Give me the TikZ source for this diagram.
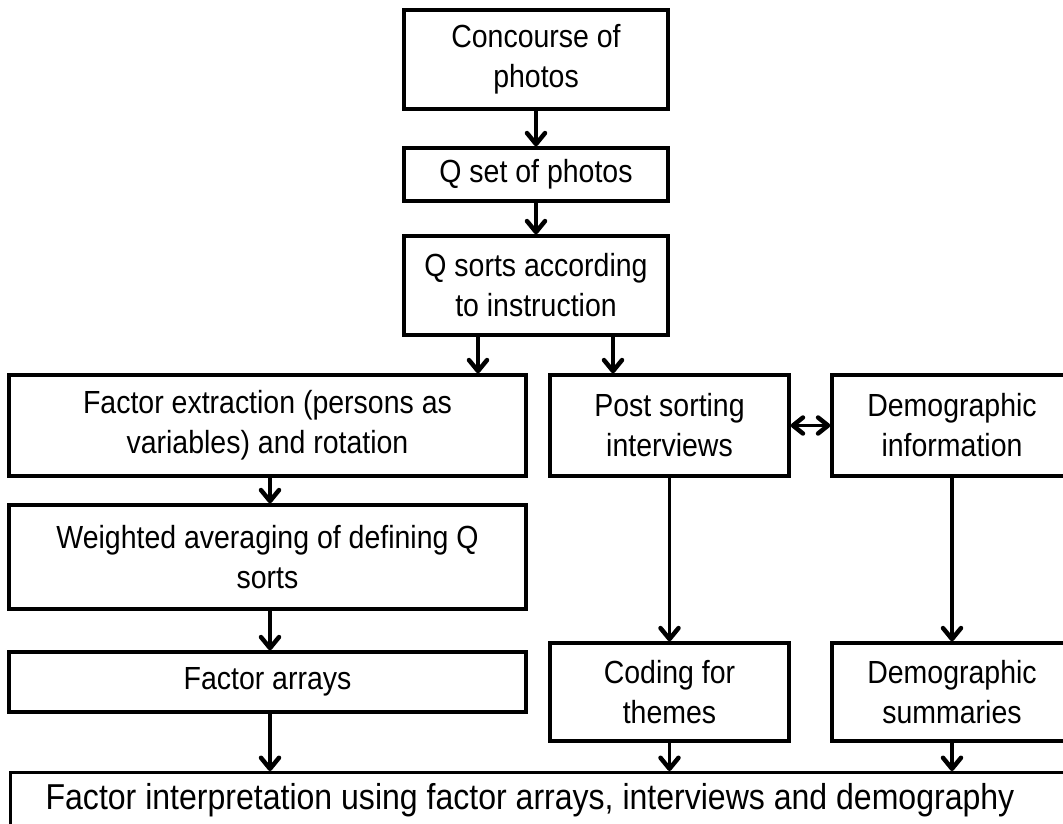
\documentclass[tikz,border=0pt]{standalone}
\usepackage{fontspec}
\setmainfont{Liberation Sans}[FakeStretch=0.89]
\usetikzlibrary{arrows.meta}
\begin{document}
\begin{tikzpicture}[x=1pt,y=-1pt,
  stepbox/.style={draw, line width=3.4pt, rectangle, inner sep=0pt, align=center,
    font=\fontsize{32}{40}\selectfont},
  barb/.tip={Straight Barb[length=11pt,width=18pt,line width=0pt 1.4,round]},
  sbarb/.tip={Straight Barb[length=10pt,width=16pt,line width=0pt 1.4,round]},
  flow/.style={line width=3.2pt, -barb},
  flow2/.style={line width=3.2pt, sbarb-sbarb}
]
\useasboundingbox (0,0) rectangle (1063,823);
\clip (0,0) rectangle (1063,823);
\fill[white] (0,0) rectangle (1063,823);

% top column
\node[stepbox, minimum width=264pt, minimum height=99pt]  (b1) at (536,59.5)  {Concourse of\\photos};
\node[stepbox, minimum width=264pt, minimum height=53pt]  (b2) at (536,174.5) {Q set of photos};
\node[stepbox, minimum width=264pt, minimum height=99pt]  (b3) at (536,285.5) {Q sorts according\\to instruction};

% second row
\node[stepbox, minimum width=517pt, minimum height=101pt] (b4) at (267.5,425.5) {Factor extraction (persons as\\variables) and rotation};
\node[stepbox, minimum width=239pt, minimum height=101pt] (b5) at (669.5,425.5) {Post sorting\\interviews};
\node[stepbox, minimum width=240pt, minimum height=101pt] (b6) at (952,425.5) {Demographic\\information};

% left column
\node[stepbox, minimum width=517pt, minimum height=104pt] (b7) at (267.5,557) {Weighted averaging of defining Q\\sorts};
\node[stepbox, minimum width=517pt, minimum height=60pt]  (b8) at (267.5,682) {Factor arrays};

% lower row
\node[stepbox, minimum width=239pt, minimum height=98pt]  (b9)  at (669.5,692) {Coding for\\themes};
\node[stepbox, minimum width=240pt, minimum height=98pt]  (b10) at (952,692) {Demographic\\summaries};

% final box, running past the lower and right edges
\node[stepbox, minimum width=1064pt, minimum height=60pt, anchor=north west] (b11) at (9,771) {};
\node[font=\fontsize{36}{40}\selectfont, anchor=base] (t11) at (530,809) {Factor interpretation using factor arrays, interviews and demography};

% connectors
\coordinate (xa) at (478,0);
\coordinate (xb) at (613,0);
\coordinate (xl) at (270,0);
\draw[flow] (b1) -- (b2);
\draw[flow] (b2) -- (b3);
\draw[flow] (b3.south -| xa) -- (b4.north -| xa);
\draw[flow] (b3.south -| xb) -- (b5.north -| xb);
\draw[flow2] (b5.east) -- (b6.west);
\draw[flow] (b4.south -| xl) -- (b7.north -| xl);
\draw[flow] (b7.south -| xl) -- (b8.north -| xl);
\draw[flow] (b8.south -| xl) -- (b11.north -| xl);
\draw[flow] (b5.south) -- (b9.north);
\draw[flow] (b6.south) -- (b10.north);
\draw[flow] (b9.south) -- (b11.north -| b9.south);
\draw[flow] (b10.south) -- (b11.north -| b10.south);
\end{tikzpicture}
\end{document}
